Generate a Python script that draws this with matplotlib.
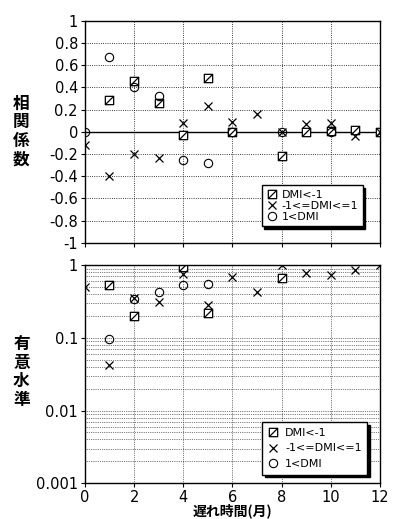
import numpy as np
import matplotlib
matplotlib.use("Agg")
import matplotlib.pyplot as plt
from matplotlib.path import Path
from matplotlib.ticker import NullFormatter, LogLocator

plt.rcParams["font.family"] = ["DejaVu Sans"]

# correlation coefficient (top panel)
r_x = [1, 2, 3, 4, 5, 6, 8, 9, 10, 11, 12]
r_neg = [0.29, 0.46, 0.26, -0.03, 0.485, 0.0, -0.22, 0.0, 0.01, 0.02, 0.0]
r_mid_x = [0, 1, 2, 3, 4, 5, 6, 7, 8, 9, 10, 11, 12]
r_mid = [-0.12, -0.40, -0.20, -0.24, 0.08, 0.23, 0.09, 0.16, 0.0, 0.07, 0.08, -0.04, 0.0]
r_pos_x = [0, 1, 2, 3, 4, 5, 6, 8, 10]
r_pos = [0.0, 0.67, 0.40, 0.32, -0.25, -0.28, 0.0, 0.0, 0.0]

# significance level (bottom panel)
p_neg_x = [1, 2, 4, 5, 8]
p_neg = [0.54, 0.20, 0.95, 0.22, 0.67]
p_mid_x = [0, 1, 2, 3, 4, 5, 6, 7, 8, 9, 10, 11, 12]
p_mid = [0.50, 0.042, 0.35, 0.31, 0.75, 0.28, 0.69, 0.43, 1.0, 0.77, 0.73, 0.85, 1.0]
p_pos_x = [1, 2, 3, 4, 5]
p_pos = [0.096, 0.34, 0.43, 0.54, 0.55]

labels = ["DMI<-1", "-1<=DMI<=1", "1<DMI"]

# square with a diagonal slash
hatch_sq = Path(
    [(-1, -1), (1, -1), (1, 1), (-1, 1), (-1, -1), (-1, -1), (1, 1)],
    [Path.MOVETO, Path.LINETO, Path.LINETO, Path.LINETO, Path.CLOSEPOLY,
     Path.MOVETO, Path.LINETO],
)

jp = ["Noto Sans CJK JP", "DejaVu Sans"]

fig = plt.figure(figsize=(3.93, 5.19), dpi=100)
ax1 = fig.add_axes([0.216, 0.532, 0.751, 0.428])
ax2 = fig.add_axes([0.216, 0.069, 0.751, 0.420])

mk = dict(linestyle="none", color="k", markerfacecolor="white", markeredgewidth=0.9)


def draw(ax, xs, ys):
    ax.plot(xs[0], ys[0], marker=hatch_sq, markersize=6, label=labels[0], **mk)
    ax.plot(xs[1], ys[1], marker="x", markersize=6, label=labels[1], **mk)
    ax.plot(xs[2], ys[2], marker="o", markersize=6, label=labels[2],
            fillstyle="none", linestyle="none", color="k", markeredgewidth=0.8)


# ---- top: correlation
draw(ax1, [r_x, r_mid_x, r_pos_x], [r_neg, r_mid, r_pos])
ax1.axhline(0, color="k", linewidth=1.0, zorder=1)
ax1.set_xlim(0, 12)
ax1.set_ylim(-1, 1)
ax1.set_xticks(range(0, 13, 2))
ax1.set_xticklabels([])
ax1.set_yticks(np.round(np.arange(-1, 1.01, 0.2), 1))
ax1.set_yticklabels(["-1", "-0.8", "-0.6", "-0.4", "-0.2", "0", "0.2",
                     "0.4", "0.6", "0.8", "1"])
ax1.grid(True, color="k", linestyle=":", linewidth=0.6)
ax1.set_ylabel("\n".join("相関係数"), family=jp, fontsize=12,
               fontweight="bold", rotation=0, va="center", ha="center",
               linespacing=1.05)
ax1.yaxis.set_label_coords(-0.215, 0.5)
ax1.legend(loc="lower right", bbox_to_anchor=(0.96, 0.05), fontsize=8,
           frameon=True, fancybox=False, edgecolor="k", framealpha=1,
           shadow={"color": "k", "alpha": 1}, handletextpad=0.4,
           borderpad=0.4, labelspacing=0.1, handlelength=1.0)

# ---- bottom: significance level
draw(ax2, [p_neg_x, p_mid_x, p_pos_x], [p_neg, p_mid, p_pos])
ax2.set_yscale("log")
ax2.set_xlim(0, 12)
ax2.set_ylim(0.001, 1)
ax2.set_xticks(range(0, 13, 2))
ax2.set_yticks([0.001, 0.01, 0.1, 1])
ax2.set_yticklabels(["0.001", "0.01", "0.1", "1"])
ax2.yaxis.set_minor_locator(LogLocator(base=10, subs=np.arange(2, 10)))
ax2.yaxis.set_minor_formatter(NullFormatter())
ax2.tick_params(axis="y", which="minor", length=0)
ax2.grid(True, which="both", color="k", linestyle=":", linewidth=0.5)
ax2.set_ylabel("\n".join("有意水準"), family=jp, fontsize=12,
               fontweight="bold", rotation=0, va="center", ha="center",
               linespacing=1.05)
ax2.yaxis.set_label_coords(-0.215, 0.51)
ax2.set_xlabel("遅れ時間(月)", family=jp, fontsize=10, fontweight="bold",
               labelpad=-1)
ax2.legend(loc="lower right", bbox_to_anchor=(0.976, 0.014), fontsize=8,
           frameon=True, fancybox=False, edgecolor="k", framealpha=1,
           shadow={"color": "k", "alpha": 1}, handletextpad=0.6,
           borderpad=0.5, labelspacing=0.5, handlelength=1.0)

for ax in (ax1, ax2):
    ax.tick_params(labelsize=10.5, direction="out", length=3, pad=2)
    for s in ax.spines.values():
        s.set_linewidth(1.0)

fig.savefig("out.png", dpi=100)
